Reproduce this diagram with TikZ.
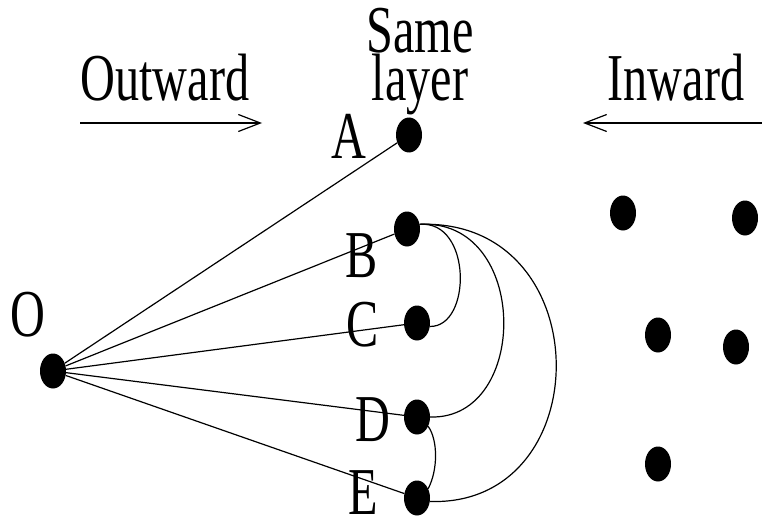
\documentclass[tikz,border=0pt]{standalone}
\usepackage{fontspec}
\setmainfont{Liberation Serif}
\usepackage{graphicx}
\usetikzlibrary{shapes.geometric,arrows.meta}
\newcommand{\sq}[1]{\scalebox{0.72}[1]{#1}}
\tikzset{
  dot/.style={ellipse,fill=black,draw=none,minimum width=26pt,minimum height=35pt,inner sep=0pt},
  lbl/.style={anchor=base,inner sep=0pt,font=\fontsize{67}{67}\selectfont},
  edge/.style={line width=1.2pt},
  arr/.style={line width=1.2pt,-{Straight Barb[length=22pt,width=17pt,line width=1.2pt]}}
}
\begin{document}
\begin{tikzpicture}[x=1pt,y=-1pt]
\useasboundingbox (0,0) rectangle (762,516);
% titles
\node[lbl] (same) at (420,53) {\sq{Same}};
\node[lbl] (layer) at (420,101) {\sq{layer}};
\node[lbl] (outw) at (165,100) {\sq{Outward}};
\node[lbl] (inw) at (676,100) {\sq{Inward}};
% arrows
\coordinate (o1) at (80,123);
\coordinate (o2) at (262,123);
\coordinate (i1) at (763,123);
\coordinate (i2) at (583,123);
\draw[arr] (o1) -- (o2);
\draw[arr] (i1) -- (i2);
% dots
\node[dot] (O) at (53,371) {};
\node[dot] (A) at (409,135) {};
\node[dot] (B) at (407,229) {};
\node[dot] (C) at (417,323) {};
\node[dot] (D) at (417,417) {};
\node[dot] (E) at (417,498) {};
\node[dot] (r1) at (623,213) {};
\node[dot] (r2) at (745,218) {};
\node[dot] (r3) at (658,335) {};
\node[dot] (r4) at (736,347) {};
\node[dot] (r5) at (658,464) {};
% labels
\node[lbl] (lO) at (28,336) {\sq{O}};
\node[lbl] (lA) at (349,158) {\sq{A}};
\node[lbl] (lB) at (362,277) {\sq{B}};
\node[lbl] (lC) at (363,346) {\sq{C}};
\node[lbl] (lD) at (373,441) {\sq{D}};
\node[lbl] (lE) at (363,514) {\sq{E}};
% straight edges
\draw[edge] (O) -- (A);
\draw[edge] (O) -- (B);
\draw[edge] (O) -- (C);
\draw[edge] (O) -- (D);
\draw[edge] (O) -- (E);
% curved edges
\draw[edge] (B.20) .. controls (472,220) and (472,327) .. (C.-15);
\draw[edge] (B.20) .. controls (530,218) and (530,420) .. (D.east);
\draw[edge] (B.20) .. controls (600,218) and (600,507) .. (E.-15);
\draw[edge] (D.-40) .. controls (438,440) and (438,470) .. (E.40);
\end{tikzpicture}
\end{document}
